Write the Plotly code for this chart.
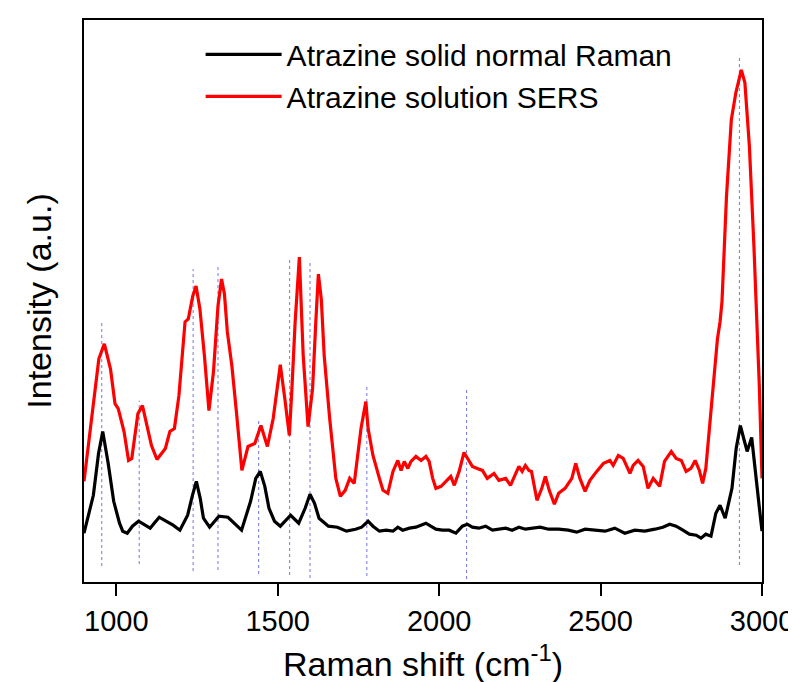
import plotly.graph_objects as go

# ---- data ----
# Atrazine solid normal Raman (black)
black_x = [900, 929, 945, 958, 975, 992, 1010, 1020, 1034, 1050, 1069, 1085, 1105, 1120, 1133, 1154,
           1176, 1197, 1221, 1235, 1248, 1260, 1270, 1289, 1318, 1346, 1367, 1388, 1416, 1432, 1446,
           1460, 1473, 1490, 1508, 1540, 1565, 1585, 1600, 1614, 1628, 1657, 1685, 1713, 1741, 1760,
           1780, 1795, 1815, 1836, 1857, 1872, 1887, 1908, 1928, 1944, 1959, 1974, 1990, 2010, 2031,
           2052, 2072, 2087, 2103, 2123, 2144, 2165, 2185, 2206, 2226, 2247, 2267, 2288, 2313, 2339,
           2370, 2400, 2426, 2452, 2483, 2514, 2544, 2575, 2606, 2637, 2668, 2693, 2714, 2734, 2755,
           2775, 2796, 2811, 2826, 2842, 2857, 2870, 2886, 2907, 2920, 2933, 2945, 2954, 2968, 2982,
           2992, 3000]
black_y = [49, 87, 129, 151, 119, 81, 59, 51, 49, 56, 61, 58, 54, 60, 65, 61,
           57, 52, 67, 86, 101, 84, 64, 55, 66, 65, 59, 52, 81, 104, 111,
           96, 74, 61, 56, 67, 59, 74, 88, 79, 64, 56, 55, 51, 53, 55,
           61, 56, 51, 52, 51, 55, 52, 54, 55, 57, 59, 56, 53, 52, 52,
           49, 56, 58, 55, 54, 56, 52, 53, 54, 52, 55, 53, 54, 55, 53,
           53, 52, 50, 53, 52, 51, 54, 49, 52, 51, 53, 55, 58, 56, 52,
           48, 47, 44, 48, 46, 69, 77, 64, 94, 134, 157, 142, 131, 145, 107,
           74, 51]

# Atrazine solution SERS (red)
red_x = [900, 911, 932, 946, 963, 982, 996, 1006, 1024, 1038, 1048, 1067, 1081, 1095, 1109, 1126,
         1152, 1166, 1180, 1194, 1213, 1223, 1237, 1247, 1259, 1273, 1287, 1301, 1315, 1326, 1335,
         1344, 1358, 1372, 1389, 1408, 1429, 1448, 1468, 1486, 1508, 1522, 1536, 1544, 1554, 1567,
         1579, 1594, 1608, 1618, 1626, 1635, 1644, 1661, 1680, 1694, 1709, 1723, 1737, 1758, 1773,
         1780, 1795, 1815, 1826, 1841, 1857, 1872, 1882, 1892, 1903, 1913, 1928, 1944, 1959, 1969,
         1980, 1990, 2006, 2021, 2036, 2047, 2062, 2077, 2087, 2103, 2118, 2134, 2149, 2170, 2185,
         2206, 2221, 2234, 2247, 2257, 2267, 2278, 2286, 2303, 2318, 2329, 2341, 2357, 2370, 2390,
         2411, 2423, 2436, 2452, 2467, 2488, 2509, 2529, 2539, 2555, 2570, 2591, 2601, 2616, 2632,
         2647, 2663, 2683, 2698, 2719, 2734, 2750, 2765, 2780, 2793, 2806, 2816, 2826, 2837, 2850,
         2862, 2870, 2876, 2890, 2905, 2919, 2936, 2947, 2961, 2975, 2983, 2992, 3000]
red_y = [101, 131, 187, 224, 239, 214, 179, 174, 151, 122, 124, 169, 177, 157, 137, 123,
         134, 151, 154, 187, 261, 264, 287, 297, 274, 227, 172, 211, 277, 304, 289,
         251, 217, 171, 112, 136, 139, 157, 136, 164, 218, 184, 147, 194, 261, 326,
         227, 156, 194, 261, 309, 284, 227, 164, 104, 86, 92, 104, 99, 154, 181,
         154, 127, 104, 92, 89, 111, 122, 112, 121, 114, 121, 126, 122, 126, 121,
         104, 94, 96, 101, 106, 97, 111, 130, 124, 116, 114, 112, 104, 109, 102,
         104, 97, 107, 116, 111, 117, 112, 111, 82, 94, 106, 92, 78, 89, 94,
         104, 119, 104, 91, 102, 111, 119, 122, 117, 127, 124, 109, 117, 122, 116,
         94, 104, 96, 121, 131, 124, 122, 111, 114, 122, 112, 99, 114, 154, 204,
         244, 261, 281, 387, 464, 491, 514, 501, 437, 337, 274, 194, 104]

# peak marker lines (dotted): position, top, bottom
peak_x = [955, 1071, 1238, 1315, 1441, 1537, 1600, 1776, 2085, 2930]
peak_top = [261, 182, 314, 316, 162, 324, 322, 196, 194, 529]
peak_bottom = [16, 18, 11, 12, 8, 7, 4, 6, 3, 17]

x_ticks = [1000, 1500, 2000, 2500, 3000]

FONT = "Liberation Sans, Arial, sans-serif"

fig = go.Figure()

# dotted peak guide lines
gx, gy = [], []
for px, pt, pb in zip(peak_x, peak_top, peak_bottom):
    gx += [px, px, None]
    gy += [pb, pt, None]
fig.add_trace(go.Scatter(x=gx, y=gy, mode="lines", showlegend=False, hoverinfo="skip",
                         line=dict(color="rgba(70,70,210,0.75)", width=1, dash="dot")))

fig.add_trace(go.Scatter(x=black_x, y=black_y, mode="lines", name="Atrazine solid normal Raman",
                         line=dict(color="black", width=3.2)))
fig.add_trace(go.Scatter(x=red_x, y=red_y, mode="lines", name="Atrazine solution SERS",
                         line=dict(color="#ff0000", width=3.2)))

fig.update_layout(
    width=796, height=682,
    margin=dict(l=76, r=38, t=10, b=108),
    paper_bgcolor="white", plot_bgcolor="white",
    font=dict(family=FONT, color="black"),
    showlegend=True,
    legend=dict(x=0.172, y=0.985, xanchor="left", yanchor="top",
                bgcolor="rgba(0,0,0,0)", borderwidth=0,
                font=dict(size=30, family=FONT), itemwidth=76,
                tracegroupgap=0),
    xaxis=dict(range=[900, 3000], tickvals=x_ticks, ticktext=[str(t) for t in x_ticks],
               ticks="outside", ticklen=12, tickwidth=2, tickcolor="black",
               showline=True, linewidth=2, linecolor="black", mirror=True,
               showgrid=False, zeroline=False,
               tickfont=dict(size=29, family=FONT),
               title=dict(text="Raman shift (cm<sup>-1</sup>)", font=dict(size=34, family=FONT), standoff=16)),
    yaxis=dict(range=[0, 564], showticklabels=False, ticks="",
               showline=True, linewidth=2, linecolor="black", mirror=True,
               showgrid=False, zeroline=False,
               title=dict(text="Intensity (a.u.)", font=dict(size=34, family=FONT), standoff=20)),
)

fig.write_html("out.html")
